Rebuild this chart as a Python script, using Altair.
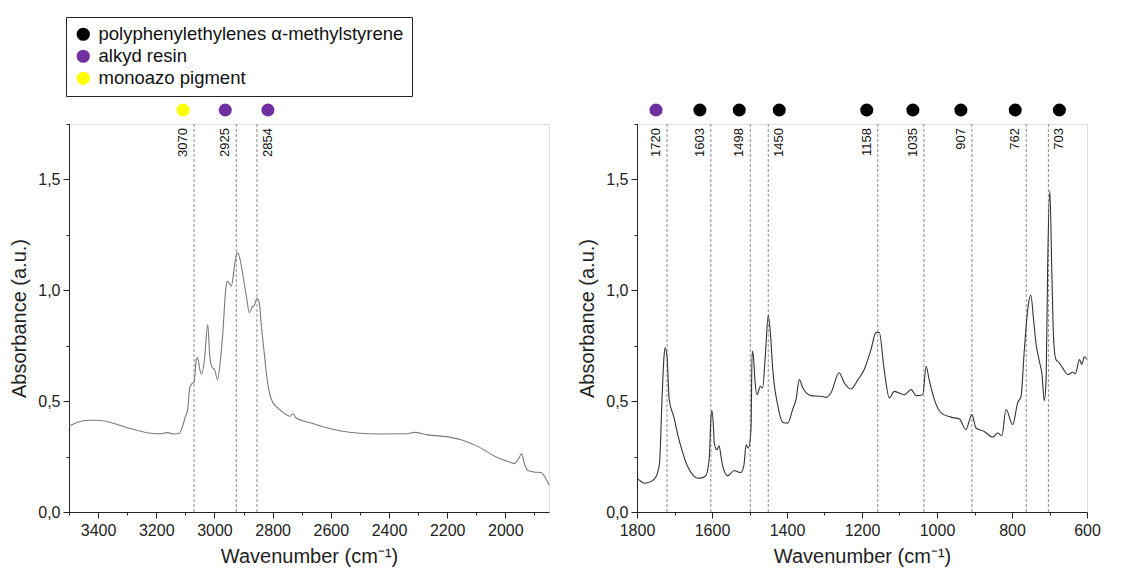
import altair as alt
import pandas as pd

# ---------------- data ----------------
wn_left = [3500, 3470, 3430, 3400, 3360, 3300, 3240, 3190, 3161, 3140, 3120, 3110, 3100,
           3092, 3085, 3078, 3070, 3062, 3058, 3050, 3044, 3035, 3023, 3016, 3008, 3000,
           2989, 2980, 2972, 2960, 2955, 2948, 2942, 2930, 2922, 2915, 2900, 2890, 2880,
           2870, 2862, 2854, 2846, 2838, 2829, 2820, 2811, 2800, 2788, 2770, 2754, 2740,
           2730, 2720, 2700, 2668, 2611, 2554, 2500, 2439, 2336, 2313, 2267, 2210, 2152,
           2095, 2038, 1981, 1970, 1955, 1944, 1935, 1923, 1900, 1877, 1865, 1850]
abs_left = [0.388, 0.405, 0.414, 0.414, 0.405, 0.380, 0.360, 0.353, 0.358, 0.352, 0.355, 0.385, 0.430,
            0.462, 0.560, 0.578, 0.585, 0.690, 0.695, 0.640, 0.622, 0.680, 0.846, 0.700, 0.652, 0.643,
            0.597, 0.680, 0.793, 1.020, 1.040, 1.030, 1.019, 1.120, 1.170, 1.155, 1.050, 0.970, 0.899,
            0.925, 0.935, 0.964, 0.944, 0.830, 0.718, 0.610, 0.537, 0.495, 0.476, 0.455, 0.440, 0.432,
            0.443, 0.425, 0.413, 0.401, 0.379, 0.363, 0.355, 0.352, 0.353, 0.359, 0.348, 0.341, 0.326,
            0.296, 0.253, 0.223, 0.218, 0.240, 0.262, 0.220, 0.187, 0.180, 0.178, 0.160, 0.122]

wn_right = [1800, 1795, 1780, 1763, 1749, 1740, 1733, 1728, 1725, 1720, 1714, 1701, 1690, 1683,
            1665, 1650, 1638, 1625, 1616, 1607, 1603, 1600, 1596, 1594, 1587, 1581, 1576, 1571,
            1558, 1541, 1530, 1523, 1515, 1509, 1503, 1496, 1493, 1490, 1485, 1480, 1471, 1465,
            1458, 1450, 1444, 1438, 1425, 1411, 1398, 1385, 1376, 1367, 1358, 1336, 1309, 1296,
            1283, 1261, 1247, 1229, 1211, 1194, 1176, 1163, 1154, 1141, 1127, 1114, 1087, 1069,
            1056, 1038, 1029, 1021, 1007, 989, 963, 940, 923, 907, 896, 874, 851, 838, 827, 816,
            798, 785, 776, 767, 757, 750, 742, 736, 727, 720, 714, 709, 705, 699, 694, 689, 683,
            674, 665, 651, 638, 631, 620, 614, 607, 600]
abs_right = [0.150, 0.145, 0.130, 0.137, 0.160, 0.220, 0.522, 0.700, 0.741, 0.703, 0.507, 0.424, 0.340, 0.296,
             0.205, 0.165, 0.152, 0.155, 0.165, 0.250, 0.420, 0.457, 0.380, 0.311, 0.281, 0.299, 0.250, 0.205,
             0.164, 0.187, 0.180, 0.178, 0.210, 0.303, 0.288, 0.371, 0.725, 0.710, 0.582, 0.529, 0.567, 0.560,
             0.700, 0.887, 0.800, 0.643, 0.484, 0.404, 0.401, 0.462, 0.507, 0.597, 0.560, 0.525, 0.522, 0.517,
             0.537, 0.628, 0.582, 0.555, 0.597, 0.643, 0.733, 0.809, 0.811, 0.643, 0.514, 0.544, 0.529, 0.552,
             0.525, 0.529, 0.657, 0.597, 0.507, 0.447, 0.428, 0.419, 0.371, 0.439, 0.379, 0.363, 0.338, 0.356, 0.344, 0.462,
             0.394, 0.492, 0.522, 0.733, 0.929, 0.979, 0.860, 0.760, 0.680, 0.620, 0.502, 0.597, 1.100, 1.449, 1.100, 0.778, 0.688,
             0.673, 0.650, 0.620, 0.630, 0.624, 0.688, 0.665, 0.700, 0.688]

groups = ["polyphenylethylenes α-methylstyrene", "alkyd resin", "monoazo pigment"]
group_colors = ["#000000", "#7030A0", "#FFFF00"]

peaks_left = [3070, 2925, 2854]
peaks_left_group = ["monoazo pigment", "alkyd resin", "alkyd resin"]
peaks_left_side = ["left", "left", "right"]

peaks_right = [1720, 1603, 1498, 1450, 1158, 1035, 907, 762, 703]
peaks_right_group = ["alkyd resin"] + ["polyphenylethylenes α-methylstyrene"] * 8
peaks_right_side = ["left", "left", "left", "right", "left", "left", "left", "left", "right"]

ticks_left = list(range(3500, 1899, -100))
ticks_right = list(range(1800, 599, -100))
ticks_y = [0, 0.25, 0.5, 0.75, 1.0, 1.25, 1.5, 1.75]

FONT = "Liberation Sans"


def panel(wn, ab, pk, pg, ps, domain, width, xticks, line_color, show_legend):
    spec = pd.DataFrame({"wn": wn, "a": ab})
    peaks = pd.DataFrame({"wn": pk, "group": pg, "side": ps, "label": [str(v) for v in pk]})

    xscale = alt.Scale(domain=domain, nice=False, zero=False)
    yscale = alt.Scale(domain=[0, 1.75], nice=False, zero=True)

    xaxis = alt.Axis(
        values=xticks,
        labelExpr="datum.value % 200 == 0 ? format(datum.value, 'd') : ''",
        tickSize={"condition": {"test": "datum.value % 200 == 0", "value": 6}, "value": 3},
        title="Wavenumber (cm⁻¹)", grid=False, labelFontSize=16, titleFontSize=20,
        labelPadding=4, titlePadding=8, domainColor="#222", tickColor="#222",
        labelColor="#222", titleColor="#222", titleFontWeight="normal",
        labelFont=FONT, titleFont=FONT, labelFlush=False, labelOverlap=False,
    )
    yaxis = alt.Axis(
        values=ticks_y,
        labelExpr="datum.value * 2 == round(datum.value * 2) ? replace(format(datum.value, '.1f'), '.', ',') : ''",
        tickSize={"condition": {"test": "datum.value * 2 == round(datum.value * 2)", "value": 6}, "value": 3},
        title="Absorbance (a.u.)", grid=False, labelFontSize=16, titleFontSize=20,
        labelPadding=3, titlePadding=8, domainColor="#222", tickColor="#222",
        labelColor="#222", titleColor="#222", titleFontWeight="normal",
        labelFont=FONT, titleFont=FONT, labelFlush=False, labelOverlap=False,
    )

    if show_legend:
        legend = alt.Legend(
            title=None, orient="none", legendX=-3, legendY=-107,
            strokeColor="#222", fillColor="white", padding=8,
            labelFontSize=18.5, labelFont=FONT, labelColor="#111", labelLimit=0,
            symbolType="circle", symbolSize=175, symbolStrokeWidth=0,
            symbolOpacity=1, rowPadding=3, labelOffset=6,
        )
    else:
        legend = None
    color = alt.Color("group:N", scale=alt.Scale(domain=groups, range=group_colors), legend=legend)

    rules = alt.Chart(peaks).mark_rule(strokeDash=[3, 2], color="#8a8a8a", strokeWidth=1).encode(
        x=alt.X("wn:Q", scale=xscale, axis=xaxis)
    )
    line = alt.Chart(spec).mark_line(color=line_color, strokeWidth=1.1, interpolate="monotone").encode(
        x=alt.X("wn:Q", scale=xscale, axis=xaxis),
        y=alt.Y("a:Q", scale=yscale, axis=yaxis),
        order="wn:Q",
    )
    layers = [rules, line]
    for side, off in (("left", -11), ("right", 11)):
        lab = alt.Chart(peaks).transform_filter(alt.datum.side == side).mark_text(
            angle=270, align="right", baseline="middle", fontSize=13, font=FONT,
            color="#111", dy=off
        ).encode(
            x=alt.X("wn:Q", scale=xscale, axis=xaxis),
            y=alt.value(4),
            text="label:N",
        )
        pts = alt.Chart(peaks).transform_filter(alt.datum.side == side).mark_point(
            filled=True, size=170, opacity=1, xOffset=off, strokeWidth=0
        ).encode(
            x=alt.X("wn:Q", scale=xscale, axis=xaxis),
            y=alt.value(-14),
            color=color,
        )
        layers += [lab, pts]
    return alt.layer(*layers).properties(width=width, height=388)


left = panel(wn_left, abs_left, peaks_left, peaks_left_group, peaks_left_side,
             [3500, 1850], 480, ticks_left, "#7a7a7a", True)
right = panel(wn_right, abs_right, peaks_right, peaks_right_group, peaks_right_side,
              [1800, 600], 450, ticks_right, "#333333", False)

chart = alt.hconcat(left, right, spacing=88, bounds="flush").resolve_scale(
    color="independent"
).resolve_legend(color="independent").properties(
    padding={"left": 1, "top": 8, "right": 5, "bottom": 0}
).configure_view(
    stroke="#222", strokeWidth=1.5
).configure(
    font=FONT, background="white"
)

chart.save("out.html", embed_options={"renderer": "svg", "actions": False})
